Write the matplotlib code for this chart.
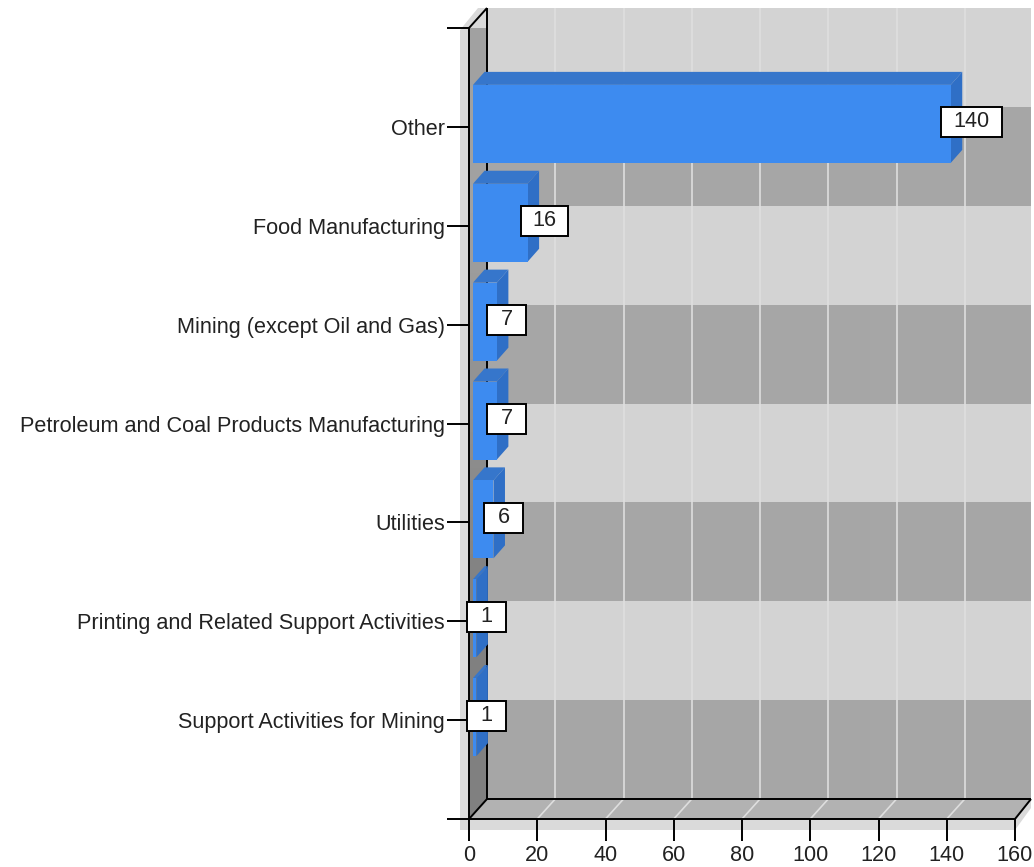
import matplotlib
matplotlib.use('Agg')
import matplotlib.pyplot as plt
from matplotlib.patches import Polygon, Rectangle

categories = ['Other', 'Food Manufacturing', 'Mining (except Oil and Gas)',
              'Petroleum and Coal Products Manufacturing', 'Utilities',
              'Printing and Related Support Activities', 'Support Activities for Mining']
values = [140, 16, 7, 7, 6, 1, 1]
xticks = [0, 20, 40, 60, 80, 100, 120, 140, 160]

W, H = 1034, 867
# front plane of the fake 3d box, in pixels
LEFT, RIGHT, TOP, BOTTOM = 469, 1015, 28, 819

plt.rcParams['font.family'] = ['Liberation Sans', 'DejaVu Sans']
fig = plt.figure(figsize=(W / 100, H / 100), dpi=100)
ax = fig.add_axes([LEFT / W, 1 - BOTTOM / H, (RIGHT - LEFT) / W, (BOTTOM - TOP) / H])
ax.set_xlim(0, 160)
ax.set_ylim(8, 0)

UX = 160 / (RIGHT - LEFT)  # data units per pixel
UY = 8 / (BOTTOM - TOP)
DEPTH_X, DEPTH_Y = 16 * UX, -20 * UY
TEXT = '#222222'
FONT = 12.0 * 1.3 * 1.0


def poly(pts, color, z):
    ax.add_patch(Polygon(pts, closed=True, facecolor=color, edgecolor='none', zorder=z, clip_on=False))


def line(xs, ys, color='black', lw=1.4, z=1):
    ax.plot(xs, ys, color=color, lw=lw, zorder=z, clip_on=False, solid_capstyle='butt')


# drop shadow behind the box
poly([(-9 * UX, 2 * UY), (9 * UX, -20 * UY), (DEPTH_X + 2 * UX, -20 * UY), (DEPTH_X + 2 * UX, 8 + DEPTH_Y),
      (160 + DEPTH_X, 8 + DEPTH_Y), (160 + DEPTH_X, 8 - 11 * UY), (160, 8 + 11 * UY), (-9 * UX, 8 + 11 * UY)],
     '#dadada', 0.05)

# back wall bands
bx0, bx1 = 18 * UX, 160 + DEPTH_X
for i in range(8):
    color = '#d3d3d3' if i % 2 == 0 else '#a6a6a6'
    ax.add_patch(Rectangle((bx0, i + DEPTH_Y), bx1 - bx0, 1, facecolor=color, edgecolor='none', zorder=0.1, clip_on=False))

# left wall with its gradient
grad = ax.imshow([[0.63], [0.5]], cmap='gray', vmin=0, vmax=1, aspect='auto', zorder=0.2,
                 extent=(0, bx0, 8, DEPTH_Y), interpolation='bilinear')
wall = Polygon([(0, 0), (bx0, DEPTH_Y), (bx0, 8 + DEPTH_Y), (0, 8)], closed=True, transform=ax.transData,
               facecolor='none', edgecolor='none')
ax.add_patch(wall)
grad.set_clip_path(wall)
grad.set_clip_on(True)
ax.set_xlim(0, 160)
ax.set_ylim(8, 0)

# floor
poly([(0, 8), (bx0, 8 + DEPTH_Y), (bx1, 8 + DEPTH_Y), (160, 8)], '#b2b2b2', 0.2)

# grid lines on back wall and floor
for t in xticks[1:-1]:
    line([t + bx0, t + bx0], [DEPTH_Y, 8 + DEPTH_Y], '#dedede', 1.2, 0.3)
    line([t + bx0, t], [8 + DEPTH_Y, 8], '#dedede', 1.2, 0.3)

# box edges
line([bx0, bx0], [DEPTH_Y, 8 + DEPTH_Y])
line([0, bx0], [0, DEPTH_Y])
line([0, bx0], [8, 8 + DEPTH_Y])
line([bx0, bx1], [8 + DEPTH_Y, 8 + DEPTH_Y])
line([160, bx1], [8, 8 + DEPTH_Y])

# bars
bar_h = 78 * UY
shift_x = 4 * UX
shift_y = -3 * UY
bar_dx, bar_dy = 11.5 * UX, -13 * UY
ypos = list(range(1, len(values) + 1))
for y, v in zip(ypos, values):
    y0 = y + shift_y - bar_h / 2
    y1 = y + shift_y + bar_h / 2
    x0, x1 = shift_x, shift_x + v
    poly([(x0, y0), (x0 + bar_dx, y0 + bar_dy), (x1 + bar_dx, y0 + bar_dy), (x1, y0)], '#3676cb', 5)
    poly([(x1, y0), (x1 + bar_dx, y0 + bar_dy), (x1 + bar_dx, y1 + bar_dy), (x1, y1)], '#2f6fc6', 5)
    ax.barh(y + shift_y, v, height=bar_h, left=x0, color='#3d8bf0', edgecolor='none', zorder=5.1)

# value boxes
box_w = {1: 39, 2: 47, 3: 61}
box_off = {1: -9.5, 2: -6.5, 3: -9.5}
for y, v in zip(ypos, values):
    n = len(str(v))
    w = box_w[n] * UX
    x0 = shift_x + v + box_off[n] * UX
    y0 = y - 19.5 * UY
    ax.add_patch(Rectangle((x0, y0), w, 30 * UY, facecolor='white', edgecolor='black', lw=1.4, zorder=6, clip_on=False))
    ax.text(x0 + w / 2, y0 + 14.5 * UY, str(v), ha='center', va='center', fontsize=FONT, color=TEXT, zorder=7)

# axes, ticks and labels
ax.set_axisbelow(True)
for side in ['top', 'right']:
    ax.spines[side].set_visible(False)
for side in ['left', 'bottom']:
    ax.spines[side].set_linewidth(1.4)
ax.set_xticks(xticks)
ax.set_yticks(range(0, 9))
ax.set_yticklabels([''] + categories + [''])
ax.tick_params(axis='both', length=15.5, width=1.4, labelsize=FONT, labelcolor=TEXT, pad=2)
ax.tick_params(axis='x', pad=3.5)
ax.patch.set_visible(False)

fig.savefig('out.png', dpi=100)
